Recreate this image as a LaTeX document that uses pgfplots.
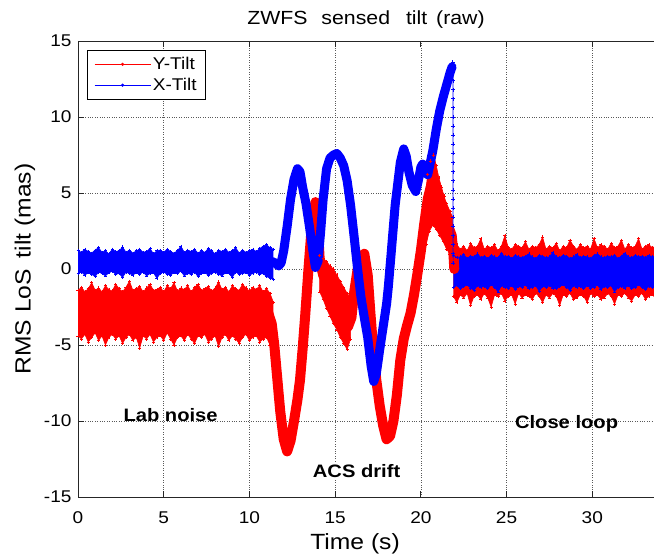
\documentclass[border=0pt]{standalone}
\usepackage{fontspec}
\setmainfont{Liberation Sans}[FakeStretch=1.12]
\usepackage{pgfplots}
\pgfplotsset{compat=1.18}
\usepackage{pgfplotstable}
\usepgfplotslibrary{fillbetween}

\pgfplotstableread{
x ru rl bu bl
0.0 -1.4 -4.4 1.20 -0.30
0.2 -1.2 -4.6 1.10 -0.20
0.4 -1.5 -4.3 1.30 -0.40
0.6 -1.3 -4.8 1.15 -0.25
0.8 -0.9 -4.5 1.05 -0.35
1.0 -1.4 -4.2 1.25 -0.50
1.2 -1.25 -4.7 1.40 -0.20
1.4 -1.5 -4.4 1.10 -0.30
1.6 -1.1 -5.0 1.20 -0.45
1.8 -1.35 -4.5 1.00 -0.25
2.0 -1.45 -4.3 1.30 -0.15
2.2 -1.0 -4.6 1.15 -0.35
2.4 -1.3 -4.4 1.20 -0.30
2.6 -1.5 -4.9 1.45 -0.55
2.8 -1.2 -4.5 1.10 -0.20
3.0 -0.8 -4.3 1.25 -0.30
3.2 -1.4 -4.7 1.05 -0.40
3.4 -1.3 -4.5 1.20 -0.25
3.6 -1.15 -5.2 1.30 -0.35
3.8 -1.5 -4.4 1.10 -0.20
4.0 -1.25 -4.6 1.15 -0.45
4.2 -1.0 -4.3 1.35 -0.30
4.4 -1.4 -4.8 1.00 -0.25
4.6 -1.35 -4.5 1.20 -0.60
4.8 -1.2 -4.4 1.25 -0.30
5.0 -1.5 -4.7 1.10 -0.20
5.2 -1.1 -4.2 1.30 -0.35
5.4 -1.3 -4.6 1.15 -0.40
5.6 -0.9 -5.0 1.05 -0.25
5.8 -1.45 -4.5 1.20 -0.30
6.0 -1.25 -4.4 1.50 -0.15
6.2 -1.35 -4.7 1.10 -0.45
6.4 -1.1 -4.3 1.25 -0.30
6.6 -1.5 -4.6 1.15 -0.35
6.8 -1.2 -4.9 1.30 -0.20
7.0 -1.0 -4.4 1.05 -0.50
7.2 -1.4 -4.5 1.20 -0.30
7.4 -1.3 -4.3 1.10 -0.25
7.6 -1.15 -4.8 1.35 -0.40
7.8 -1.45 -4.6 1.20 -0.30
8.0 -1.25 -4.4 1.00 -0.20
8.2 -0.85 -5.1 1.25 -0.35
8.4 -1.35 -4.5 1.15 -0.45
8.6 -1.2 -4.3 1.30 -0.25
8.8 -1.5 -4.7 1.10 -0.30
9.0 -1.1 -4.4 1.20 -0.55
9.2 -1.3 -4.6 1.40 -0.20
9.4 -1.4 -4.9 1.05 -0.35
9.6 -1.0 -4.5 1.25 -0.30
9.8 -1.25 -4.3 1.10 -0.25
10.0 -1.45 -4.7 1.20 -0.40
10.2 -1.2 -4.5 1.30 -0.30
10.4 -1.35 -4.4 1.15 -0.20
10.6 -1.1 -4.8 1.35 -0.35
10.8 -1.5 -4.6 1.50 -0.30
11.0 -1.3 -4.5 1.60 -0.50
11.2 -1.6 -5.0 1.40 -0.60
11.4 -2.2 -5.8 1.30 -0.70
}\pre

\pgfplotstableread{
x ru rl bu bl
21.9 1.5 -1.8 0.9 -1.2
22.1 1.6 -2.2 0.75 -1.1
22.3 1.3 -1.7 0.8 -1.3
22.5 1.5 -1.9 0.95 -1.15
22.7 1.2 -1.6 0.7 -1.05
22.9 1.7 -2.4 0.85 -1.25
23.1 1.4 -1.8 0.8 -1.4
23.3 1.5 -1.7 1.0 -1.1
23.5 2.0 -2.0 0.75 -1.2
23.7 1.3 -1.6 0.85 -1.15
23.9 1.5 -1.9 0.7 -1.3
24.1 1.4 -2.5 0.9 -1.05
24.3 1.6 -1.7 0.8 -1.2
24.5 1.2 -1.8 0.75 -1.5
24.7 1.5 -1.6 1.05 -1.1
24.9 2.2 -2.1 0.8 -1.2
25.1 1.4 -1.8 0.85 -1.25
25.3 1.3 -1.7 0.7 -1.1
25.5 1.6 -2.3 0.9 -1.35
25.7 1.5 -1.6 0.8 -1.15
25.9 1.4 -1.9 0.75 -1.2
26.1 1.8 -1.7 0.85 -1.05
26.3 1.3 -1.8 1.0 -1.3
26.5 1.5 -2.0 0.8 -1.2
26.7 1.4 -1.6 0.7 -1.1
26.9 1.6 -1.8 0.9 -1.45
27.1 2.1 -2.2 0.85 -1.15
27.3 1.3 -1.7 0.75 -1.2
27.5 1.5 -1.9 0.8 -1.1
27.7 1.4 -1.6 1.1 -1.25
27.9 1.7 -1.8 0.8 -1.3
28.1 1.2 -2.4 0.75 -1.15
28.3 1.5 -1.7 0.9 -1.05
28.5 1.4 -1.8 0.85 -1.2
28.7 1.9 -1.6 0.7 -1.4
28.9 1.5 -2.0 0.8 -1.1
29.1 1.3 -1.9 0.95 -1.2
29.3 1.6 -1.7 0.75 -1.15
29.5 1.4 -1.8 0.85 -1.3
29.7 1.5 -2.2 0.8 -1.1
29.9 1.3 -1.6 0.7 -1.25
30.1 2.0 -1.8 0.9 -1.2
30.3 1.4 -1.7 1.0 -1.05
30.5 1.6 -2.0 0.8 -1.35
30.7 1.5 -1.9 0.75 -1.15
30.9 1.3 -1.6 0.85 -1.2
31.1 1.7 -1.8 0.8 -1.1
31.3 1.4 -2.3 0.9 -1.5
31.5 1.5 -1.7 0.7 -1.2
31.7 1.9 -1.8 0.85 -1.15
31.9 1.3 -1.6 1.05 -1.25
32.1 1.6 -1.9 0.8 -1.1
32.3 1.4 -2.1 0.75 -1.3
32.5 1.5 -1.7 0.9 -1.2
32.7 2.0 -1.8 0.8 -1.05
32.9 1.3 -1.6 0.85 -1.2
33.1 1.5 -2.0 0.75 -1.35
33.3 1.6 -1.8 0.9 -1.15
33.5 1.4 -1.7 0.8 -1.2
33.7 1.5 -1.9 0.85 -1.1
}\post

\begin{document}
\begin{tikzpicture}
\begin{axis}[
  name=ax,
  scale only axis, width=576pt, height=456pt,
  xmin=0, xmax=33.6, ymin=-15, ymax=15,
  xtick={0,5,...,30}, ytick={-15,-10,...,15},
  axis x line*=box, axis y line*=left,
  tick align=inside, major tick length=6pt,
  axis line style={black!85, line width=0.8pt},
  tick style={black!85, line width=0.8pt},
  grid=major, grid style={dotted, black!65, line width=0.6pt},
  /pgf/number format/assume math mode=true,
  tick label style={font=\fontsize{17}{19}\selectfont},
  xticklabel shift=11pt, yticklabel shift=3pt,
  title={ZWFS\hspace{8pt} sensed\hspace{10pt} tilt\hspace{3pt} (raw)},
  title style={at={(axis description cs:0.5,1.022)}, anchor=base, font=\fontsize{19}{22}\selectfont},
  xlabel={Time (s)},
  xlabel style={at={(axis description cs:0.481,-0.116)}, anchor=base, font=\fontsize{22}{25}\selectfont},
  ylabel={RMS LoS\hspace{4pt} tilt (mas)},
  ylabel style={at={(axis description cs:-0.092,0.5)}, anchor=center, font=\fontsize{22}{26}\selectfont},
  legend image code/.code={\draw[mark repeat=2,mark phase=2,#1] plot coordinates {(0pt,0pt) (28pt,0pt) (56pt,0pt)};},
  legend style={at={(0.0156,0.98)}, anchor=north west, draw=black, line width=0.6pt, fill=white,
    font=\fontsize{17}{20}\selectfont, row sep=3pt, inner xsep=7pt, inner ysep=5pt},
  legend cell align=left,
]
\addlegendimage{red, line width=0.6pt, mark=*, mark size=1.3pt}
\addlegendentry{Y-Tilt}
\addlegendimage{blue, line width=0.6pt, mark=*, mark size=1.3pt}
\addlegendentry{X-Tilt}

% ---------- Y-Tilt (red) ----------
\addplot[name path=rpu, red, line width=0.6pt, mark=+, mark size=1.6pt, forget plot] table[x=x,y=ru]{\pre};
\addplot[name path=rpl, red, line width=0.6pt, mark=+, mark size=1.6pt, forget plot] table[x=x,y=rl]{\pre};
\addplot[red, forget plot] fill between[of=rpu and rpl];

\addplot[red, line width=10pt, line join=round, line cap=round, forget plot] coordinates {
(11.1,-2.9) (11.3,-3.6) (11.45,-5.0) (11.6,-6.9) (11.8,-9.4) (12.0,-11.2) (12.2,-12.0)
(12.4,-11.3) (12.6,-10.0) (12.8,-8.6) (12.95,-7.3) (13.1,-5.3) (13.25,-3.1) (13.45,0.1)
(13.65,3.0) (13.85,4.4) (14.0,2.6) (14.1,0.6) (14.3,-0.4) (14.7,-1.3) (15.1,-2.2)
(15.5,-3.2) (15.75,-3.8) (15.95,-3.2) (16.1,-1.6) (16.3,-0.1) (16.5,0.8) (16.7,1.0)
(16.9,-0.4) (17.05,-2.8) (17.2,-5.0) (17.4,-7.3) (17.6,-9.0) (17.8,-10.3) (18.0,-11.2)
(18.2,-11.0) (18.4,-10.0) (18.6,-8.3) (18.8,-6.0) (19.0,-4.6) (19.2,-3.7) (19.4,-2.9)
(19.6,-1.7) (19.8,-0.3) (20.0,1.2) (20.2,3.0) (20.4,4.6) (20.6,5.5) (20.8,5.6) (21.0,4.8)
(21.2,4.0) (21.4,3.4) (21.6,2.8) (21.8,2.2) (21.9,1.0) (21.95,0.0)};

\addplot[red, fill=red, line width=0.6pt, mark=+, mark size=1.6pt, forget plot] coordinates {
(14.1,0.9) (14.3,0.7) (14.5,0.5) (14.7,0.2) (14.9,0.0) (15.1,-0.4) (15.3,-0.8) (15.5,-1.2)
(15.7,-1.6) (15.9,-1.9) (15.9,-4.6) (15.7,-5.3) (15.5,-4.9) (15.3,-4.5) (15.1,-4.0)
(14.9,-3.6) (14.7,-3.1) (14.5,-2.6) (14.3,-2.0) (14.1,-1.5)} -- cycle;

\addplot[red, fill=red, line width=0.6pt, mark=+, mark size=1.6pt, forget plot] coordinates {
(20.2,4.4) (20.4,6.2) (20.55,7.1) (20.75,7.5) (20.9,6.8) (21.05,6.0) (21.2,5.4) (21.35,4.8)
(21.5,4.3) (21.7,3.8) (21.85,3.4) (21.85,0.6) (21.7,1.0) (21.5,1.3) (21.3,1.8) (21.1,2.2)
(20.9,2.6) (20.7,2.9) (20.5,2.5) (20.3,1.6) (20.2,1.2)} -- cycle;

\addplot[name path=rqu, red, line width=0.6pt, mark=+, mark size=1.6pt, forget plot] table[x=x,y=ru]{\post};
\addplot[name path=rql, red, line width=0.6pt, mark=+, mark size=1.6pt, forget plot] table[x=x,y=rl]{\post};
\addplot[red, forget plot] fill between[of=rqu and rql];

% ---------- X-Tilt (blue) ----------
\addplot[name path=bpu, blue, line width=0.6pt, mark=+, mark size=1.5pt, forget plot] table[x=x,y=bu]{\pre};
\addplot[name path=bpl, blue, line width=0.6pt, mark=+, mark size=1.5pt, forget plot] table[x=x,y=bl]{\pre};
\addplot[blue, forget plot] fill between[of=bpu and bpl];

\addplot[blue, line width=9pt, line join=round, line cap=round, forget plot] coordinates {
(11.3,0.5) (11.5,0.4) (11.7,0.2) (11.85,0.4) (12.0,1.2) (12.2,2.8) (12.4,4.6) (12.6,5.9)
(12.8,6.6) (12.95,6.4) (13.1,5.4) (13.3,4.3) (13.5,2.8) (13.7,1.2) (13.85,0.1) (14.0,0.5)
(14.15,2.4) (14.3,4.6) (14.5,6.6) (14.7,7.3) (14.9,7.5) (15.1,7.6) (15.3,7.3) (15.5,6.8)
(15.7,5.8) (15.9,4.2) (16.1,2.2) (16.3,0.1) (16.5,-1.8) (16.7,-3.2) (16.9,-4.5) (17.1,-6.4)
(17.25,-7.4) (17.4,-6.9) (17.6,-5.3) (17.8,-3.8) (18.0,-2.3) (18.1,-1.2) (18.25,0.8)
(18.5,4.2) (18.8,7.0) (19.0,7.9) (19.15,7.4) (19.3,6.4) (19.5,5.5) (19.7,5.1) (19.85,5.8)
(20.0,6.7) (20.1,6.9) (20.25,6.4) (20.4,6.2) (20.55,7.0) (20.7,7.8) (20.9,9.2) (21.1,10.4)
(21.3,11.3) (21.5,12.1) (21.7,12.9) (21.82,13.3)};

\addplot[blue, line width=0.8pt, mark=+, mark size=2pt, forget plot] coordinates {
(21.85,13.6) (21.88,13.0) (21.88,12.4) (21.88,11.8) (21.88,11.2) (21.88,10.6) (21.88,10.0)
(21.88,9.4) (21.88,8.8) (21.88,8.2) (21.88,7.6) (21.88,7.0) (21.88,6.4) (21.88,5.8)
(21.88,5.2) (21.88,4.6) (21.88,4.0) (21.88,3.4) (21.88,2.8) (21.88,2.2) (21.88,1.6)
(21.88,1.0) (21.88,0.4)};

\addplot[name path=bqu, blue, line width=0.6pt, mark=+, mark size=1.5pt, forget plot] table[x=x,y=bu]{\post};
\addplot[name path=bql, blue, line width=0.6pt, mark=+, mark size=1.5pt, forget plot] table[x=x,y=bl]{\post};
\addplot[blue, forget plot] fill between[of=bqu and bql];

% ---------- annotations ----------
\node[font=\fontsize{18}{20}\selectfont\bfseries] at (axis cs:5.4,-9.6) {Lab noise};
\node[font=\fontsize{18}{20}\selectfont\bfseries, fill=white, inner sep=2pt] at (axis cs:16.25,-13.3) {ACS drift};
\node[font=\fontsize{18}{20}\selectfont\bfseries] at (axis cs:28.5,-10.2) {Close loop};
\end{axis}
\pgfresetboundingbox
\path ([xshift=-78pt,yshift=-60pt]ax.south west) rectangle ([yshift=41pt]ax.north east);
\end{tikzpicture}
\end{document}
